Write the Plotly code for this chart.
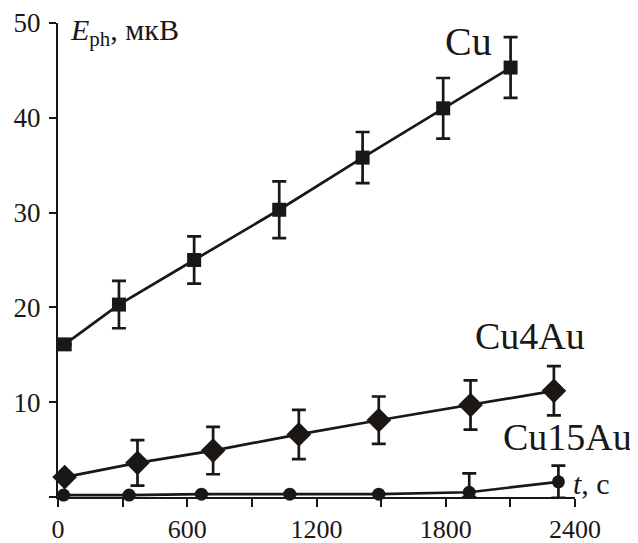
import plotly.graph_objects as go

# Data
cu_t = [31, 283, 632, 1027, 1414, 1788, 2101]
cu_e = [16.1, 20.3, 25.0, 30.3, 35.8, 41.0, 45.3]
cu_err = [None, 2.5, 2.5, 3.0, 2.7, 3.2, 3.2]

cu4_t = [31, 369, 720, 1118, 1489, 1915, 2302]
cu4_e = [2.1, 3.6, 4.9, 6.6, 8.1, 9.7, 11.2]
cu4_err = [None, 2.4, 2.5, 2.6, 2.5, 2.6, 2.6]

cu15_t = [26, 330, 666, 1076, 1489, 1909, 2323]
cu15_e = [0.2, 0.2, 0.3, 0.3, 0.3, 0.5, 1.6]
cu15_err_plus = [None, None, None, None, None, 2.0, 1.7]
cu15_err_minus = [None, None, None, None, None, 0.5, 1.7]

x_ticks = [0, 600, 1200, 1800, 2400]
y_ticks = [10, 20, 30, 40, 50]

FONT = "Liberation Serif"
BLACK = "#1a1715"

fig = go.Figure()

def add_series(x, y, ep, em, symbol, size):
    fig.add_trace(go.Scatter(
        x=x, y=y, mode="lines+markers",
        line=dict(color=BLACK, width=2.7),
        marker=dict(symbol=symbol, size=size, color=BLACK, line=dict(width=0)),
        error_y=dict(type="data", array=ep, arrayminus=em, symmetric=False,
                     color=BLACK, thickness=2.7, width=7),
        cliponaxis=False, showlegend=False,
    ))

add_series(cu_t, cu_e, cu_err, cu_err, "square", 14)
add_series(cu4_t, cu4_e, cu4_err, cu4_err, "diamond", 19)
add_series(cu15_t, cu15_e, cu15_err_plus, cu15_err_minus, "circle", 13)

fig.update_layout(
    width=630, height=535,
    margin=dict(l=50, r=63, t=15, b=46),
    plot_bgcolor="white", paper_bgcolor="white",
    font=dict(family=FONT, color=BLACK, size=26),
    xaxis=dict(range=[0, 2400], tickvals=x_ticks, showline=True, linecolor=BLACK,
               linewidth=2.4, ticks="outside", ticklen=8, tickwidth=2.2, tickcolor=BLACK,
               showgrid=False, zeroline=False, automargin=False, ticklabelstandoff=0,
               minor=dict(ticks="outside", dtick=300, tick0=0, ticklen=8, tickwidth=2.2,
                          tickcolor=BLACK, showgrid=False),
               tickfont=dict(family=FONT, size=26, color=BLACK)),
    yaxis=dict(range=[0, 50], tickvals=y_ticks, showline=True,
               linecolor=BLACK, linewidth=2.4, ticks="outside", ticklen=7, tickwidth=2.2,
               tickcolor=BLACK, showgrid=False, zeroline=False, automargin=False,
               ticklabelstandoff=3,
               minor=dict(tickvals=[0], ticks="outside", ticklen=7, tickwidth=2.2,
                          tickcolor=BLACK, showgrid=False),
               tickfont=dict(family=FONT, size=27, color=BLACK)),
)

ann = [
    dict(x=1907, y=48.0, text="Cu", size=40, xanchor="center", ref="data"),
    dict(x=2191, y=17.0, text="Cu4Au", size=38, xanchor="center", ref="data"),
    dict(x=2367, y=6.3, text="Cu15Au", size=38, xanchor="center", ref="data"),
    dict(x=0.992, y=0.028, text="<i>t</i>, с", size=30, xanchor="left", ref="paper"),
    dict(x=45, y=49.1, text="<i>E</i><sub>ph</sub>, мкВ", size=30, xanchor="left", ref="data"),
]
for a in ann:
    xr, yr = ("x", "y") if a["ref"] == "data" else ("paper", "paper")
    fig.add_annotation(x=a["x"], y=a["y"], xref=xr, yref=yr, text=a["text"],
                       showarrow=False, xanchor=a["xanchor"], yanchor="middle",
                       font=dict(family=FONT, size=a["size"], color=BLACK))

fig.write_html("out.html")
